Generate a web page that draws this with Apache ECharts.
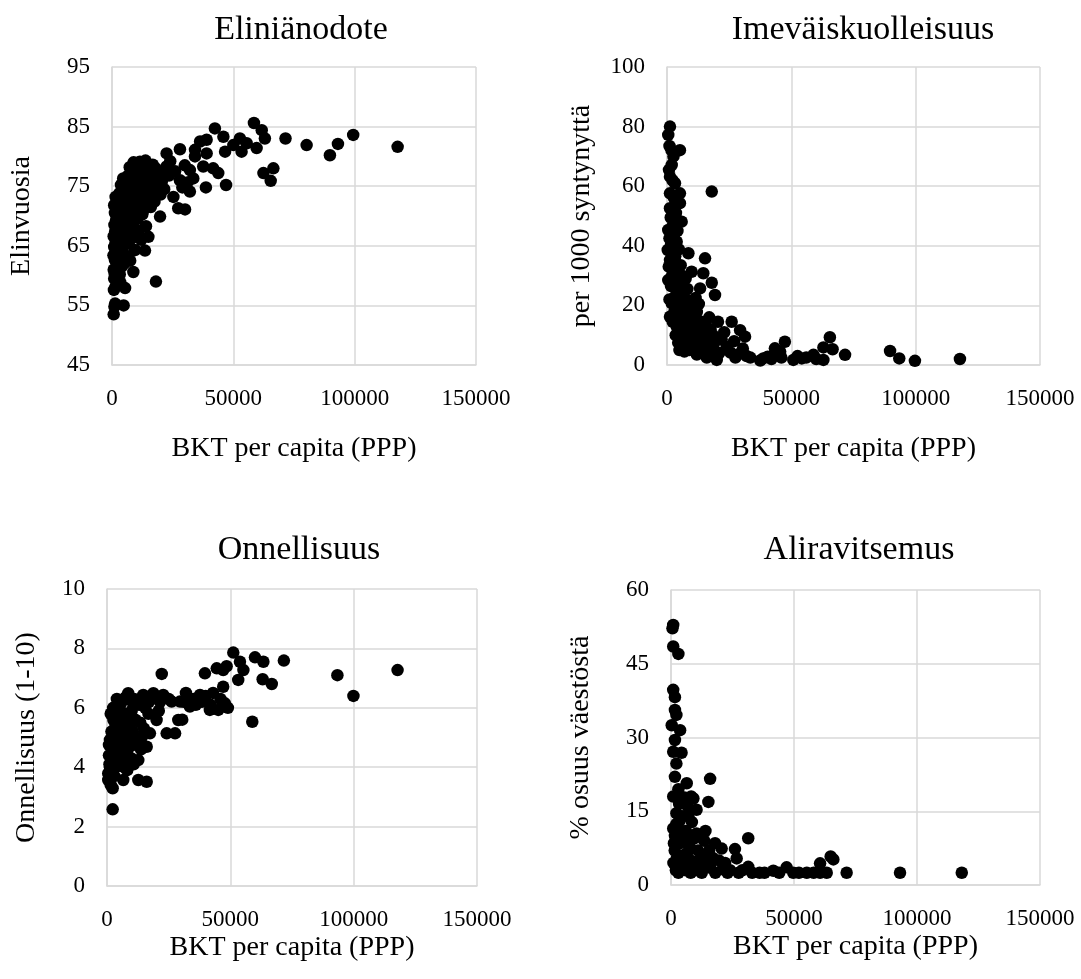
<!DOCTYPE html>
<html><head><meta charset="utf-8">
<script src="https://cdn.jsdelivr.net/npm/echarts@6/dist/echarts.min.js"></script>
<style>html,body{margin:0;padding:0;background:#fff}#c{width:1081px;height:979px}</style>
</head><body><div id="c"></div>
<script>
// Eliniänodote: [BKT per capita, elinvuosia]
const lifeData = [
[700,53.5],[1000,54.8],[1300,55.3],[800,57.6],[1500,58.2],[900,59.5],[1100,60.3],[700,61],[1800,61.5],[1200,62.6],[600,63.4],[2000,63.8],[900,64.8],[1500,65.5],[2500,66.0],[700,66.6],[1300,67.4],[2200,67.9],[1000,68.5],[1700,69.3],[2800,69.8],[1200,70.5],[2400,71.1],[900,71.8],[1900,72.5],[1500,73.2],[3000,73.8],
[3500,58.8],[4800,55.0],[5400,57.9],[3200,60.2],[4000,61.5],[5000,62.0],[3800,63.5],[4500,64.0],[3300,65.2],[5600,65.8],[4200,66.7],[3600,67.5],[5200,68.0],[4100,69.0],[5800,69.5],[3400,70.2],[4700,71.0],[5500,72.0],[3900,72.8],[4400,73.7],[5100,74.5],[3700,75.2],[5900,75.8],[4600,76.3],
[8800,60.6],[7500,62.5],[6500,63.2],[9500,64.3],[6800,65.4],[8000,66.2],[7200,67.1],[9200,67.8],[6300,68.6],[8500,69.2],[7800,70.1],[9800,70.6],[6600,71.3],[8200,72.0],[7100,72.6],[9400,73.3],[6900,74.1],[8600,74.8],[7600,75.5],[9100,76.0],[6400,76.7],[8300,77.2],[9700,77.8],[7300,78.2],[8900,79.0],
[13600,64.2],[12000,66.0],[15000,66.5],[11000,67.5],[14000,68.3],[10500,69.5],[12500,70.3],[13300,71.2],[11300,72.0],[14500,72.7],[10800,73.5],[12800,74.3],[14200,75.0],[11700,75.8],[13000,76.5],[10300,77.2],[14800,77.6],[12200,78.3],[11500,79.1],[13800,79.3],[10900,74.6],[12400,72.5],
[18100,59.0],[19800,69.9],[16000,71.5],[17500,72.4],[15500,73.8],[18500,74.2],[16500,75.1],[20500,75.7],[17000,76.3],[19000,76.9],[15800,77.5],[21000,77.3],[18000,78.0],[16800,78.6],[20000,73.6],[22500,78.3],[22500,80.5],[21500,74.5],
[25300,73.2],[27300,71.3],[30100,71.1],[28000,76.0],[32100,74.1],[33500,76.3],[32100,77.7],[28000,81.2],[34200,81.1],[34200,80.0],[24000,79.2],[26000,77.5],[30000,78.5],[29000,74.8],[23500,76.8],[31000,75.6],
[36300,82.5],[39000,82.8],[39000,80.5],[37600,78.3],[41700,78.0],[43800,77.2],[38700,74.8],[47000,75.2],[42400,84.7],[45900,83.3],[46600,80.8],[50000,81.9],[52700,83.0],[53400,80.8],[55500,82.2],[58500,85.6],[61700,84.4],[63000,83.0],[59600,81.4],[62400,77.2],[66500,78.0],[65400,75.9],[71500,83.0],[80200,81.9],[89800,80.2],[93100,82.1],[99400,83.6],[117700,81.6]
];
// Imeväiskuolleisuus: [BKT per capita, per 1000 syntynyttä]
const infantData = [
[1200,80.0],[500,77.2],[1000,73.5],[5200,72.1],[1800,72.1],[2600,70.0],[1900,67.1],[800,65.5],[1200,63.2],[2200,62.0],[3200,61.0],[1200,57.6],[5200,57.6],[2800,56.0],[5200,54.3],[1200,52.6],[3600,51.0],[5900,48.1],[4200,48.6],[2500,47.0],[500,45.3],[3000,44.0],[3900,41.4],[1600,40.2],[300,38.6],[4800,38.8],[1200,35.2],[3300,36.5],[2500,31.9],[5500,33.5],[500,28.5],[4200,29.5],[1600,26.5],[3800,25.0],[6500,27.0],[1900,20.7],[2800,22.5],[5000,23.0],[1200,16.2],[3000,18.0],[4500,19.5],[6000,20.5],[3900,12.9],[2300,14.5],[5600,15.5],[6600,9.5],
[3500,10.0],[4500,7.5],[5000,5.0],[6000,6.5],[7000,4.5],[9000,5.0],[12000,3.5],[14500,4.0],[16000,2.5],[17500,3.2],[19000,4.8],[8500,9.0],[6500,14.0],[4000,15.0],[5500,11.5],[7500,10.5],[10500,8.0],[13500,10.5],[15500,9.0],[17500,12.0],[11000,16.5],[2000,30.0],[3500,33.0],[2000,35.0],[1000,42.5],[2200,44.0],[1500,49.5],[4200,45.0],[1000,22.0],[700,33.0],[6000,30.0],[3000,26.0],
[8600,37.5],[9900,31.3],[7500,29.0],[8200,25.5],[13300,25.7],[14600,30.8],[15300,35.8],[11500,22.5],[10000,20.0],[7200,17.5],[12000,17.8],[9000,15.0],[13800,14.5],[10600,6.1],[8000,7.5],[11000,10.5],[14000,9.0],[12500,12.0],[9500,11.0],[7000,12.5],[13000,6.5],[15000,7.0],[11800,4.5],[10200,14.0],[8800,20.0],[7800,22.0],[12800,20.5],
[18000,58.2],[18000,27.6],[19300,23.5],[17000,16.0],[16000,12.5],[18500,10.0],[20500,14.5],[19000,7.5],[16500,5.5],[22000,8.5],[20000,1.7],[21000,4.0],[24000,6.0],[23000,11.0],[26000,14.5],[27000,8.0],[25500,4.2],[29400,11.7],[31400,9.5],[28500,3.5],[30500,5.5],[32000,3.0],[27500,2.5],[33500,2.5],
[37500,1.5],[38700,2.2],[40500,2.8],[42000,2.0],[43400,3.8],[43400,5.6],[45500,4.5],[47400,7.8],[46000,2.5],[50800,1.7],[52500,3.0],[54200,2.2],[56000,2.5],[58900,3.4],[60000,2.0],[62900,1.7],[62900,5.9],[65500,9.3],[66600,5.3],[71600,3.4],[89700,4.7],[93400,2.2],[99700,1.4],[117800,2.0]
];
// Onnellisuus: [BKT per capita, asteikko 1-10]
const happyData = [
[2300,2.58],[2300,3.29],[500,3.57],[500,3.79],[1500,3.40],[3000,3.70],[1200,4.0],[2000,4.2],[800,4.4],[3500,4.0],[1200,4.92],[2500,4.6],[4000,4.5],[800,4.75],[3000,5.0],[1800,5.2],[4500,5.1],[2600,5.59],[3500,5.4],[1500,5.8],[4600,6.09],[3800,5.75],[4000,6.3],[2500,6.0],[5000,5.5],[1000,4.1],[1800,3.85],[4200,4.8],
[6600,3.57],[8600,6.49],[6000,6.2],[7500,6.35],[9500,6.25],[11000,6.3],[5500,5.9],[7000,5.8],[8500,5.7],[10000,5.9],[6200,5.4],[7800,5.3],[9200,5.4],[11500,5.6],[5800,5.0],[7200,4.9],[8800,5.0],[10500,5.2],[6500,4.6],[8000,4.5],[9500,4.7],[11200,4.8],[7000,4.2],[9800,4.3],[10800,4.1],[5500,4.3],[6800,4.0],[8200,3.9],
[12700,3.57],[16100,3.51],[12700,4.24],[16100,4.69],[17400,5.14],[20100,5.59],[14700,6.43],[18800,6.49],[13000,6.1],[15500,6.0],[17000,6.2],[19500,6.35],[21500,6.2],[13500,5.5],[15000,5.3],[16800,5.8],[14000,5.0],[12500,4.9],[13800,4.6],[22200,7.14],[22800,6.43],[21000,5.9],
[24200,5.14],[27600,5.14],[28900,5.59],[26200,6.21],[29600,6.21],[33600,6.04],[37700,6.43],[25000,6.3],[31000,6.2],[35000,6.3],[39700,7.16],[41700,5.93],[36000,6.1],[38500,6.2],[40000,6.4],[30500,5.6],[32000,6.5],
[45100,5.93],[47800,6.15],[47100,6.71],[47100,7.27],[44500,7.33],[43000,6.5],[46000,6.3],[42000,6.1],[51200,7.86],[53900,7.55],[55300,7.27],[53200,6.94],[58900,5.53],[60000,7.70],[63400,7.55],[63100,6.96],[66800,6.80],[71700,7.59],[93400,7.10],[99900,6.40],[117800,7.27],[49000,6.0],[48500,7.4]
];
// Aliravitsemus: [BKT per capita, % väestöstä]
const hungerData = [
[900,52.9],[600,52.2],[900,48.5],[3000,47.0],[900,39.7],[1600,38.2],[1600,35.6],[2200,34.6],[300,32.5],[3700,31.5],[1600,29.5],[900,27.1],[4300,26.9],[2200,24.7],[1600,22.0],[6400,20.7],[900,18.0],[3000,19.5],[4500,17.0],[2200,14.6],[3500,13.0],[1600,10.0],[2200,12.4],[900,11.5],[4000,11.0],[1000,4.5],[1500,7.0],[2500,5.5],[3500,8.5],[4500,6.0],[2000,3.0],[3000,2.5],[4000,4.0],[1200,8.5],[2800,9.8],[5000,9.0],[4800,14.0],[3300,16.5],
[9100,17.6],[10400,15.3],[7000,14.0],[8500,12.8],[6000,11.0],[10400,10.5],[9500,9.5],[7500,8.0],[6500,6.5],[8000,5.0],[11000,7.0],[9000,4.0],[6000,3.0],[10000,3.0],[11500,5.0],[8000,2.5],[7000,10.2],[12000,3.8],[5500,17.8],[6800,16.0],[8200,18.0],
[15900,21.6],[15200,16.9],[17900,8.5],[20600,7.4],[13000,6.0],[14500,4.5],[16000,3.5],[18000,2.5],[13500,9.0],[15500,7.0],[19500,5.0],[21000,3.2],[23000,2.5],[12500,2.5],[17000,5.5],[22000,4.5],[24000,3.0],[14000,11.0],
[26000,7.3],[26700,5.4],[31400,9.5],[31400,3.7],[27500,2.5],[29000,3.0],[33000,2.5],[36000,2.5],[38000,2.5],[41600,2.9],[44000,2.5],[47000,3.6],[49700,2.5],[52000,2.5],[55200,2.5],[58000,2.5],[60600,4.4],[60600,2.5],[63300,2.5],[64900,5.8],[66000,5.2],[71400,2.5],[93100,2.5],[118200,2.5]
];

const titles = ['Eliniänodote', 'Imeväiskuolleisuus', 'Onnellisuus', 'Aliravitsemus'];
const yNames = ['Elinvuosia', 'per 1000 syntynyttä', 'Onnellisuus (1-10)', '% osuus väestöstä'];
const xName = 'BKT per capita (PPP)';
const xMin = 0, xMax = 150000, xStep = 50000;
const yMins = [45, 0, 0, 0];
const yMaxs = [95, 100, 10, 60];
const ySteps = [10, 20, 2, 15];
const datasets = [lifeData, infantData, happyData, hungerData];

const FONT = '"Liberation Serif", "DejaVu Serif", serif';
// plot rectangles [left, top, right, bottom] in px
const rects = [[112, 67, 476, 365], [667, 67, 1040, 365], [107, 589, 477, 886], [671, 590, 1040, 885]];
const titleX = [296, 858, 294, 854];
const titleTop = [8, 8, 528, 528];
const yNameGap = [76, 71, 66, 76];
const xNameGap = [70, 70, 48, 48];

const grid = [], xAxis = [], yAxis = [], series = [], title = [];
rects.forEach((r, i) => {
  grid.push({left: r[0], top: r[1], width: r[2] - r[0], height: r[3] - r[1], containLabel: false});
  title.push({text: titles[i], left: titleX[i], top: titleTop[i], textAlign: 'center',
    textStyle: {fontFamily: FONT, fontSize: 34, fontWeight: 'normal', color: '#000'}});
  xAxis.push({type: 'value', gridIndex: i, min: xMin, max: xMax, interval: xStep,
    name: xName, nameLocation: 'middle', nameGap: xNameGap[i],
    nameTextStyle: {fontFamily: FONT, fontSize: 28, color: '#000'},
    axisLine: {show: true, lineStyle: {color: '#d9d9d9', width: 1.5}}, axisTick: {show: false},
    axisLabel: {fontFamily: FONT, fontSize: 23, color: '#000', margin: 22, formatter: v => String(v)},
    splitLine: {show: true, lineStyle: {color: '#d9d9d9', width: 1.5}}});
  yAxis.push({type: 'value', gridIndex: i, min: yMins[i], max: yMaxs[i], interval: ySteps[i],
    name: yNames[i], nameLocation: 'middle', nameGap: yNameGap[i], nameRotate: 90,
    nameTextStyle: {fontFamily: FONT, fontSize: 28, color: '#000'},
    axisLine: {show: true, lineStyle: {color: '#d9d9d9', width: 1.5}}, axisTick: {show: false},
    axisLabel: {fontFamily: FONT, fontSize: 23, color: '#000', margin: 22, formatter: v => String(v)},
    splitLine: {show: true, lineStyle: {color: '#d9d9d9', width: 1.5}}});
  series.push({type: 'scatter', xAxisIndex: i, yAxisIndex: i, data: datasets[i],
    symbol: 'circle', symbolSize: 12.5, itemStyle: {color: '#000', opacity: 1}, silent: true});
});

const chart = echarts.init(document.getElementById('c'), null, {renderer: 'canvas'});
chart.setOption({animation: false, backgroundColor: '#fff', title, grid, xAxis, yAxis, series});
</script></body></html>
